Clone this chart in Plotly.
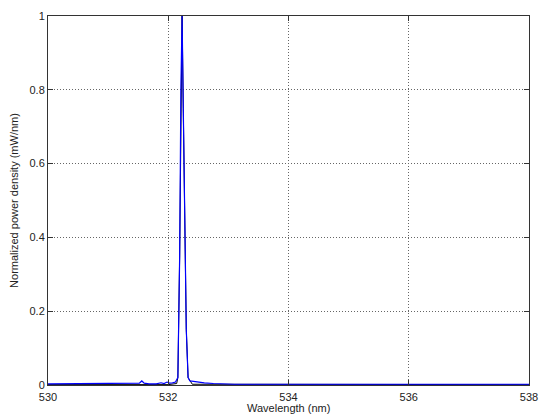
import plotly.graph_objects as go

# Data
wl_blue = [530.0, 531.0, 531.45, 531.52, 531.56, 531.6, 531.68, 531.8, 531.88, 531.93,
           531.98, 532.02, 532.07, 532.12, 532.16, 532.19, 532.21, 532.23, 532.25,
           532.27, 532.3, 532.33, 532.36, 532.42, 532.5, 532.6, 532.75, 532.9, 533.1,
           534.0, 536.0, 538.0]
pw_blue = [0.003, 0.003, 0.003, 0.005, 0.011, 0.005, 0.003, 0.003, 0.006, 0.004,
           0.008, 0.005, 0.006, 0.008, 0.02, 0.35, 0.8, 1.0, 0.75,
           0.45, 0.15, 0.02, 0.011, 0.01, 0.008, 0.006, 0.004, 0.003, 0.002,
           0.002, 0.002, 0.002]

wl_black = [530.0, 532.0, 532.14, 532.16, 532.19, 532.21, 532.23, 532.25, 532.27, 532.3, 532.33, 532.4, 538.0]
pw_black = [0.001, 0.001, 0.004, 0.02, 0.35, 0.8, 1.0, 0.75, 0.45, 0.15, 0.02, 0.002, 0.001]

x_ticks = [530, 532, 534, 536, 538]
y_ticks = [0, 0.2, 0.4, 0.6, 0.8, 1]
y_tick_text = ["0", "0.2", "0.4", "0.6", "0.8", "1"]

fig = go.Figure()
fig.add_trace(go.Scatter(x=wl_black, y=pw_black, mode="lines",
                         line=dict(color="black", width=1), showlegend=False))
fig.add_trace(go.Scatter(x=wl_blue, y=pw_blue, mode="lines",
                         line=dict(color="#0000ff", width=1.2), showlegend=False))

axis_common = dict(
    showline=True, linecolor="#333333", linewidth=1, mirror="ticks",
    ticks="inside", ticklen=5, tickcolor="#333333", automargin=False,
    showgrid=True, gridcolor="#666666", griddash="1px,2px", gridwidth=1,
    zeroline=False, tickfont=dict(family="Liberation Sans", size=11, color="#222222"),
)

fig.update_xaxes(range=[530, 538], tickvals=x_ticks, ticktext=[str(t) for t in x_ticks],
                 ticklabelstandoff=2, **axis_common)
fig.update_yaxes(range=[0, 1], tickvals=y_ticks, ticktext=y_tick_text,
                 title=dict(text="Normalized power density (mW/nm)", standoff=8,
                            font=dict(family="Liberation Sans", size=11, color="#222222")),
                 **axis_common)

fig.add_annotation(text="Wavelength (nm)", xref="paper", yref="paper", x=0.5, y=0,
                   yshift=-23, yanchor="middle", showarrow=False,
                   font=dict(family="Liberation Sans", size=11, color="#222222"))

fig.update_layout(
    width=539, height=414,
    margin=dict(l=48, r=10, t=16, b=29),
    plot_bgcolor="white", paper_bgcolor="white",
)

fig.write_html("out.html")
